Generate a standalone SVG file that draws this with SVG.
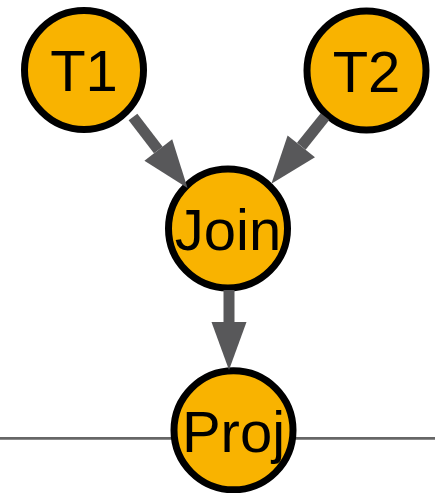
<svg xmlns="http://www.w3.org/2000/svg" width="435" height="493" viewBox="0 0 435 493">
  <style>
    .node circle { fill: #F9B300; stroke: #000000; stroke-width: 7; }
    .node text { font-family: "Liberation Sans", Arial, sans-serif; font-size: 58px; fill: #000000; text-anchor: middle; }
    .edge { stroke: #58585A; stroke-width: 11; fill: none; marker-end: url(#arrow); }
    .axis { stroke: #666666; stroke-width: 2.7; }
  </style>
  <defs>
    <marker id="arrow" markerUnits="userSpaceOnUse" orient="auto" refX="0" refY="0" markerWidth="52" markerHeight="40" viewBox="0 -20 52 40" overflow="visible">
      <path d="M0,-17.5 L48,0 L0,17.5 Z" fill="#58585A"/>
    </marker>
  </defs>
  <rect width="435" height="493" fill="#ffffff"/>
  <line class="axis" x1="0" y1="438.3" x2="435" y2="438.3"/>
  <g id="T1" class="node">
    <circle cx="84" cy="70" r="59.5"/>
    <text x="84" y="91">T1</text>
  </g>
  <g id="T2" class="node">
    <circle cx="366.5" cy="70.5" r="59.5"/>
    <text x="366.5" y="91.5">T2</text>
  </g>
  <g id="Join" class="node">
    <circle cx="228" cy="228.5" r="59.5"/>
    <text x="228" y="249.5">Join</text>
  </g>
  <g id="Proj" class="node">
    <circle cx="233.5" cy="430.3" r="59.5"/>
    <text x="233.5" y="451.5">Proj</text>
  </g>
  <g id="connectors">
    <line class="edge" x1="133" y1="117" x2="158.3" y2="150"/>
    <line class="edge" x1="325" y1="116.6" x2="301.3" y2="146.3"/>
    <line class="edge" x1="229" y1="290" x2="229" y2="322"/>
  </g>
</svg>
